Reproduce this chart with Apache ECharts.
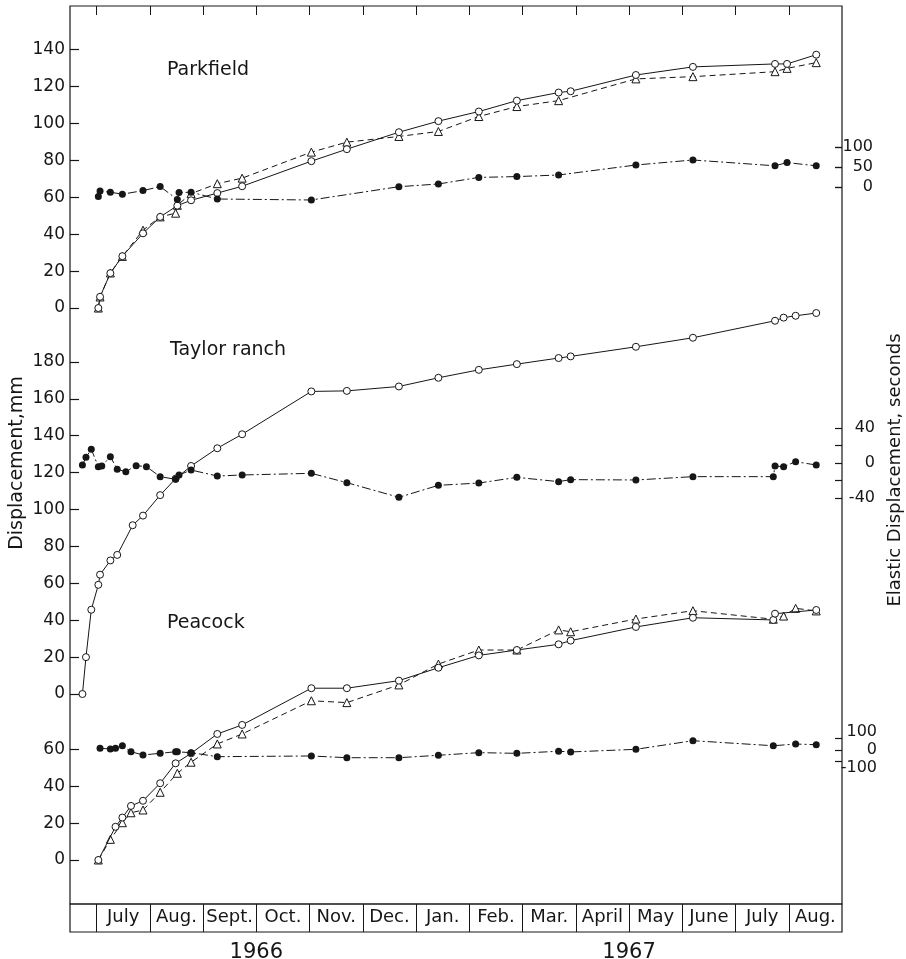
<!DOCTYPE html>
<html>
<head>
<meta charset="utf-8">
<script src="https://cdn.jsdelivr.net/npm/echarts@6/dist/echarts.min.js"></script>
<style>
html, body { margin: 0; background: #fff; }
#main { width: 906px; height: 959px; }
</style>
</head>
<body>
<div id="main"></div>
<script>
// month boxes along the bottom (first narrow box is the end of June 1966)
var monthLabels = ['July', 'Aug.', 'Sept.', 'Oct.', 'Nov.', 'Dec.', 'Jan.', 'Feb.', 'Mar.', 'April', 'May', 'June', 'July', 'Aug.'];
var yearLabels = ['1966', '1967'];

// tick labels
var parkTicks = [0, 20, 40, 60, 80, 100, 120, 140];
var taylorTicks = [0, 20, 40, 60, 80, 100, 120, 140, 160, 180];
var peacockTicks = [0, 20, 40, 60];
var parkElasticTicks = [0, 50, 100];
var taylorElasticTicks = [-40, -20, 0, 20, 40];
var taylorElasticLabels = [-40, 0, 40];
var peacockElasticTicks = [-100, 0, 100];

// Parkfield: open circles (solid), triangles (dashed), elastic (dots)
var parkDates = ['1966-07-02', '1966-07-03', '1966-07-09', '1966-07-16', '1966-07-28', '1966-08-07', '1966-08-16', '1966-08-17', '1966-08-18',
	'1966-08-25', '1966-09-09', '1966-09-23', '1966-11-02', '1966-11-22', '1966-12-22', '1967-01-14', '1967-02-06', '1967-02-26',
	'1967-03-22', '1967-03-29', '1967-05-05', '1967-06-07', '1967-07-24', '1967-07-31', '1967-08-17'];
var parkOpen = [0, 6.1, 18.9, 28.1, 40.5, 49.4, null, 55.5, null, 58.4, 62.3, 66, 79.6, 86.1, 95.3, 101.3, 106.5, 112.4, 116.8, 117.5, 126.3, 130.7, 132.3, 132.3, 137.3];
var parkTri = [0, 6, 19, 28, 42.2, 49.4, 51.4, 55.7, null, 62, 67.4, 70.4, 84.5, 89.9, 93, 95.7, 103.8, 109.2, 112.4, null, 124.2, 125.4, 128.1, 129.9, 133];
var parkElastic = [-24, -10, -13, -18, -9, 1, null, -31, -14, -13, -30, null, -32.5, null, 0.8, 7.5, 24, 26, 30, null, 55, 67.5, 53, 61, 53];

// Taylor ranch: open circles (solid), elastic (dots)
var taylorDates = ['1966-06-23', '1966-06-25', '1966-06-28', '1966-07-02', '1966-07-03', '1966-07-04', '1966-07-09', '1966-07-13', '1966-07-18',
	'1966-07-22', '1966-07-24', '1966-07-28', '1966-07-30', '1966-08-07', '1966-08-16', '1966-08-18', '1966-08-25', '1966-09-09',
	'1966-09-23', '1966-11-02', '1966-11-22', '1966-12-22', '1967-01-14', '1967-02-06', '1967-02-26', '1967-03-22', '1967-03-29',
	'1967-05-05', '1967-06-07', '1967-07-23', '1967-07-24', '1967-07-29', '1967-08-05', '1967-08-17'];
var taylorOpen = [0, 20, 45.7, 59.2, 64.7, null, 72.4, 75.4, null, 91.5, null, 96.7, null, 107.8, 116.7, null, 123.6, 133.2,
	140.8, 164, 164.3, 166.7, 171.4, 175.7, 178.8, 182.1, 183, 188.2, 193.1, null, 202.3, 204, 205, 206.5];
var taylorElastic = [-2.3, 6.5, 15.6, -4.2, null, -3.4, 7.2, -7.2, -9.9, null, -3, null, -4.2, -15.6, -18.6, -13.7, -8, -14.9,
	-13.7, -11.8, -22.5, -39.2, -25.5, -22.9, -16.4, -21.3, -19, -19.4, -15.6, -15.6, -3.4, -4.2, 1.5, -2.3];

// Peacock: open circles (solid), triangles (dashed), elastic (dots)
var peacockDates = ['1966-07-02', '1966-07-03', '1966-07-09', '1966-07-12', '1966-07-16', '1966-07-21', '1966-07-28', '1966-08-07', '1966-08-16',
	'1966-08-17', '1966-08-25', '1966-09-09', '1966-09-23', '1966-11-02', '1966-11-22', '1966-12-22', '1967-01-14', '1967-02-06',
	'1967-02-26', '1967-03-22', '1967-03-29', '1967-05-05', '1967-06-07', '1967-07-23', '1967-07-24', '1967-07-29', '1967-08-05', '1967-08-17'];
var peacockOpen = [0, null, null, 18, 23, 29.3, 32.1, 41.6, 52.4, null, 57.8, 68.3, 73.2, 93.1, 93.1, 97.2, 104.2, 110.9,
	113.8, 116.9, 118.9, 126.3, 131.3, 130.1, 133.5, null, null, 135.5];
var peacockTri = [0, null, 11.2, null, 20.2, 25.6, 27.1, 36.7, null, 47, 53, 62.9, 68.3, 86.3, 85.3, 94.9, 106.2, 113.8,
	113.8, 124.7, 123.7, 130.6, 135.1, 130.5, null, 132.2, 136.4, 135];
var peacockElastic = [null, 15, 9, 15, 37, -15, -43, -29, -15, -15, -23, -58, null, -52, -67, -67, -46, -23,
	-29, -11, -17, 6, 81, 37, null, null, 52, 46];

var ink = '#161616';
var font = 'DejaVu Sans';
var xMin = -0.5, xMax = 14;

//日期 -> 月份坐标（0 = 1966年7月1日）
function monthPos(s) {
	var p = s.split('-');
	var y = parseInt(p[0]), m = parseInt(p[1]), d = parseInt(p[2]);
	var days = new Date(y, m, 0).getDate();
	return (y - 1966) * 12 + (m - 7) + (d - 1) / days;
}
function pts(dates, vals) {
	var out = [];
	for (var i = 0; i < dates.length; i++) {
		if (vals[i] != null) out.push([monthPos(dates[i]), vals[i]]);
	}
	return out;
}
function seq(a, b) {
	var out = [];
	for (var i = a; i <= b; i++) out.push(i);
	return out;
}
// 刻度短线（用 markLine 画，坐标走系列自己的轴）
function tickMarks(ticks, x1, x2) {
	return { silent: true, symbol: ['none', 'none'], animation: false, label: { show: false }, emphasis: { disabled: true },
		lineStyle: { color: ink, width: 1.2, type: 'solid' },
		data: ticks.map(function (v) { return [{ coord: [x1, v] }, { coord: [x2, v] }]; }) };
}

function openSeries(name, yi, data, ticks) {
	var s = { name: name, type: 'line', yAxisIndex: yi, data: data, symbol: 'circle', symbolSize: 7, showAllSymbol: true,
		lineStyle: { color: ink, width: 1 }, itemStyle: { color: '#fff', borderColor: ink, borderWidth: 1 }, z: 4 };
	if (ticks) s.markLine = tickMarks(ticks, xMin, xMin + 0.17);
	return s;
}
function triSeries(name, yi, data) {
	return { name: name, type: 'line', yAxisIndex: yi, data: data, symbol: 'triangle', symbolSize: 8, showAllSymbol: true,
		lineStyle: { color: ink, width: 1, type: [6, 4] }, itemStyle: { color: '#fff', borderColor: ink, borderWidth: 1 }, z: 3 };
}
function dotSeries(name, yi, data, ticks) {
	var s = { name: name, type: 'line', yAxisIndex: yi, data: data, symbol: 'circle', symbolSize: 7, showAllSymbol: true,
		lineStyle: { color: ink, width: 1, type: [9, 3, 2, 3] }, itemStyle: { color: ink }, z: 5 };
	if (ticks) s.markLine = tickMarks(ticks, xMax - 0.13, xMax);
	return s;
}

// 一个轴只画刻度或只画标签
function yAxisPart(side, min, max, ticks, labels, opt) {
	opt = opt || {};
	return { type: 'value', gridIndex: 0, position: side, min: min, max: max,
		axisLine: { show: false, onZero: false }, splitLine: { show: false },
		axisTick: { show: ticks != null, inside: true, length: opt.tickLen || 9, customValues: ticks || [], lineStyle: { color: ink, width: 1.2 } },
		axisLabel: { show: labels != null, customValues: labels || [], align: opt.align, margin: opt.margin || 4,
			fontSize: opt.fontSize || 17, color: ink, fontFamily: font } };
}

var myChart = echarts.init(document.getElementById('main'));

var L = { margin: 5, fontSize: 17 };
var R = { align: 'right', fontSize: 16, tickLen: 7 };

var option = {
	animation: false,
	backgroundColor: '#fff',
	grid: [
		{ left: 70, right: 64, top: 6, bottom: 55, show: true, borderColor: ink, borderWidth: 1.2, containLabel: false, outerBoundsMode: 'none' },
		{ left: 70, right: 64, top: 904, height: 28, show: true, borderColor: ink, borderWidth: 1.2, containLabel: false, outerBoundsMode: 'none' }
	],
	xAxis: [
		{ type: 'value', gridIndex: 0, position: 'top', min: xMin, max: xMax,
			axisLine: { show: false, onZero: false }, splitLine: { show: false }, axisLabel: { show: false },
			axisTick: { show: true, inside: true, length: 9, customValues: seq(0, 13), lineStyle: { color: ink } } },
		{ type: 'value', gridIndex: 1, position: 'bottom', min: xMin, max: xMax,
			axisLine: { show: false, onZero: false }, splitLine: { show: false },
			axisTick: { show: true, inside: true, length: 28, customValues: seq(0, 13), lineStyle: { color: ink } },
			axisLabel: { inside: true, margin: 6, customValues: monthLabels.map(function (m, i) { return i + 0.5; }),
				formatter: function (v) { return monthLabels[Math.floor(v)]; },
				fontSize: 18, color: ink, fontFamily: font } },
		{ type: 'value', gridIndex: 1, position: 'bottom', min: xMin, max: xMax,
			axisLine: { show: false, onZero: false }, splitLine: { show: false }, axisTick: { show: false },
			axisLabel: { margin: 10, customValues: [3, 10],
				formatter: function (v) { return v < 6 ? yearLabels[0] : yearLabels[1]; },
				fontSize: 21, color: ink, fontFamily: font } }
	],
	yAxis: [
		// 0-2: displacement (left)
		yAxisPart('left', -323.0, 163.7, null, parkTicks, L),
		yAxisPart('left', -113.8, 372.9, null, taylorTicks, L),
		yAxisPart('left', -23.85, 462.85, null, peacockTicks, L),
		// 3-5: elastic (right) ticks
		yAxisPart('right', -1792.5, 452.5, parkElasticTicks, null, R),
		yAxisPart('right', -504, 522.3, taylorElasticTicks, null, R),
		yAxisPart('right', -1339.1, 6469.6, peacockElasticTicks, null, R),
		// 6-8: elastic labels (Peacock labels spread wider than their ticks)
		yAxisPart('right', -1792.5, 452.5, null, parkElasticTicks, { align: 'right', fontSize: 16, margin: 31 }),
		yAxisPart('right', -504, 522.3, null, taylorElasticLabels, { align: 'right', fontSize: 16, margin: 33 }),
		yAxisPart('right', -855.6, 4133.3, null, peacockElasticTicks, { align: 'right', fontSize: 16, margin: 35 }),
		{ type: 'value', gridIndex: 1, show: false, min: 0, max: 1 }
	],
	graphic: [
		{ type: 'text', x: 17, y: 463, rotation: Math.PI / 2,
			style: { text: 'Displacement,mm', font: '19px "DejaVu Sans"', fill: ink, textAlign: 'center', textVerticalAlign: 'middle' } },
		{ type: 'text', x: 895, y: 470, rotation: Math.PI / 2,
			style: { text: 'Elastic Displacement, seconds', font: '18px "DejaVu Sans"', fill: ink, textAlign: 'center', textVerticalAlign: 'middle' } },
		{ type: 'text', x: 167, y: 70, style: { text: 'Parkfield', font: '19px "DejaVu Sans"', fill: ink, textAlign: 'left', textVerticalAlign: 'middle' } },
		{ type: 'text', x: 170, y: 350, style: { text: 'Taylor ranch', font: '19px "DejaVu Sans"', fill: ink, textAlign: 'left', textVerticalAlign: 'middle' } },
		{ type: 'text', x: 167, y: 623, style: { text: 'Peacock', font: '19px "DejaVu Sans"', fill: ink, textAlign: 'left', textVerticalAlign: 'middle' } }
	],
	series: [
		openSeries('Parkfield', 0, pts(parkDates, parkOpen), parkTicks),
		triSeries('Parkfield 2', 0, pts(parkDates, parkTri)),
		dotSeries('Parkfield elastic', 3, pts(parkDates, parkElastic), parkElasticTicks),
		openSeries('Taylor ranch', 1, pts(taylorDates, taylorOpen), taylorTicks),
		dotSeries('Taylor ranch elastic', 4, pts(taylorDates, taylorElastic)),
		openSeries('Peacock', 2, pts(peacockDates, peacockOpen), peacockTicks),
		triSeries('Peacock 2', 2, pts(peacockDates, peacockTri)),
		dotSeries('Peacock elastic', 5, pts(peacockDates, peacockElastic))
	]
};
myChart.setOption(option);
</script>
</body>
</html>
